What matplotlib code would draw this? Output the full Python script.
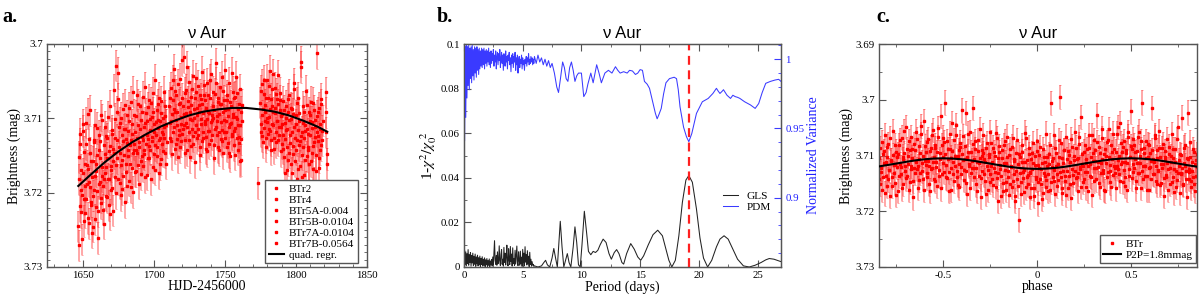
import numpy as np
import matplotlib
matplotlib.use('Agg')
import matplotlib.pyplot as plt
from matplotlib.lines import Line2D
from matplotlib.ticker import MultipleLocator, FixedLocator, FuncFormatter

plt.rcParams['font.family'] = ['Liberation Serif', 'DejaVu Serif']
plt.rcParams['mathtext.fontset'] = 'stix'

# ---------------- DATA ----------------
MAG_ZERO = 3.700          # brightness values below are given in mmag above this
# Panel a: light curve segments (start HJD-2456000, 0.5 d sampling); second set offset by 0.25 d
a_seg_start = [1647.0, 1711.0, 1775.0, 1821.0]
a_seg_step = 0.5
a_set2_offset = 0.25
a_seg1_mmag = [24.5, 15.2, 21.8, 12.1, 19.6, 26.3, 17.4, 10.8, 20.9, 16.2,
               22.7, 13.5, 18.9, 9.4, 16.8, 24.1, 19.3, 14.6, 21.2, 25.4,
               15.8, 20.4, 12.9, 17.7, 23.6, 16.1, 11.3, 19.8, 22.5, 14.2,
               18.6, 13.1, 21.4, 16.5, 10.2, 19.1, 24.2, 14.8, 17.3, 12.4,
               20.6, 15.3, 9.8, 18.2, 13.7, 22.9, 16.4, 11.6, 19.4, 14.1,
               6.2, 17.9, 12.6, 20.1, 9.1, 15.4, 3.9, 13.8, 18.7, 10.6,
               16.3, 12.2, 19.5, 8.7, 14.9, 21.3, 11.4, 17.2, 13.3, 9.6,
               15.1, 18.4, 10.3, 13.6, 7.8, 16.7, 12.1, 19.9, 9.5, 14.3,
               11.8, 17.1, 6.9, 14.6, 10.9, 18.8, 13.2, 8.4, 15.7, 12.5,
               9.2, 16.4, 11.1, 14.2, 5.8, 13.4, 17.6, 10.4, 12.8, 7.5,
               15.3, 11.6, 18.2, 9.8, 13.1, 6.6, 14.8, 10.7, 16.9, 12.3,
               8.9, 13.9, 10.2, 17.4, 7.2, 12.7, 15.5, 9.3, 11.9, 14.4,
               6.4, 12.6, 9.7, 16.1, 10.8]
a_seg1_mmag_2 = [18.2, 27.1, 13.4, 22.6, 16.9, 20.3, 11.7, 23.8, 14.5, 19.1,
                 10.6, 20.8, 16.3, 23.4, 12.8, 18.5, 8.9, 21.6, 15.7, 17.9,
                 24.6, 13.2, 19.7, 10.9, 17.1, 21.9, 14.9, 26.1, 12.3, 18.8,
                 15.4, 20.7, 9.6, 17.8, 22.3, 13.6, 18.2, 11.1, 20.4, 16.6,
                 12.7, 18.1, 21.7, 14.4, 8.3, 16.9, 19.6, 12.1, 15.8, 22.4,
                 14.7, 10.1, 2.9, 16.3, 12.9, 7.4, 18.2, 11.2, 14.6, 20.3,
                 9.9, 15.6, 13.1, 17.7, 11.5, 8.2, 16.1, 12.8, 19.1, 14.2,
                 11.7, 8.6, 16.2, 12.9, 19.3, 10.8, 14.7, 6.4, 13.5, 17.2,
                 14.3, 9.7, 12.6, 16.3, 8.1, 13.9, 11.4, 17.5, 10.2, 15.1,
                 12.9, 7.1, 14.8, 10.6, 17.9, 9.3, 12.2, 15.4, 8.5, 13.7,
                 10.1, 14.2, 7.9, 12.5, 16.6, 9.2, 11.8, 4.8, 13.6, 10.5,
                 15.1, 11.3, 8.1, 12.9, 10.4, 16.2, 7.7, 13.4, 9.9, 12.1,
                 11.2, 8.3, 14.6, 10.9, 13.2]
a_seg2_mmag = [8.3, 12.7, 5.9, 10.4, 14.8, 7.6, 11.2, 3.4, 9.1, 13.5,
               6.8, 10.9, 15.2, 8.1, 12.3, 4.7, 9.8, 13.1, 7.3, 11.5,
               1.8, 9.4, 12.9, 6.2, 10.6, 14.3, 8.5, 5.1, 11.8, 9.2,
               13.7, 7.1, 10.2, 4.3, 12.4, 8.8, 15.9, 6.5, 10.9, 9.6,
               5.6, 11.4, 8.2, 13.8, 7.4, 10.1, 3.7, 9.3, 12.6, 6.9,
               10.8, 14.1, 8.6, 5.3, 11.7, 9.1, 13.4, 7.2, 10.5, 4.1,
               12.2, 8.4, 9.9, 15.4, 6.7, 11.1, 2.6, 10.3, 13.9, 7.8,
               9.4, 5.8, 12.8, 8.1, 11.6, 14.7, 6.3, 10.2, 8.9, 3.5,
               11.9, 7.5, 13.3, 9.7, 5.2, 10.8, 15.1, 8.3, 12.1, 6.4,
               9.8, 13.6, 7.1, 11.3, 4.4, 10.1, 14.2, 8.7, 12.5, 6.1,
               10.9, 15.6, 8.2]
a_seg2_mmag_2 = [10.6, 7.2, 13.1, 9.4, 4.9, 11.8, 8.7, 14.1, 6.3, 10.2,
                 12.8, 9.1, 5.4, 11.6, 7.9, 13.9, 10.7, 2.2, 12.1, 8.4,
                 10.9, 6.6, 14.6, 9.3, 3.1, 11.2, 7.7, 12.9, 10.1, 15.2,
                 8.2, 11.5, 6.1, 13.4, 9.9, 7.3, 11.8, 4.6, 12.7, 8.6,
                 12.3, 9.2, 14.9, 6.8, 10.7, 13.1, 8.1, 11.9, 5.5, 10.4,
                 7.6, 12.5, 10.1, 14.4, 6.9, 9.3, 11.7, 4.8, 12.9, 9.5,
                 10.2, 6.4, 13.6, 8.9, 11.4, 5.2, 12.2, 9.7, 7.3, 14.3,
                 11.8, 8.1, 10.5, 4.4, 13.1, 9.2, 11.9, 7.6, 12.7, 10.3,
                 6.9, 13.8, 8.8, 11.1, 14.6, 7.8, 10.6, 3.9, 12.4, 9.4,
                 11.7, 7.2, 14.9, 9.8, 12.6, 6.6, 10.9, 13.3, 8.1, 15.8,
                 9.1, 12.8, 10.4]
a_seg3_mmag = [7.9, 11.8, 5.4, 9.6, 13.2, 6.7, 10.4, 8.2, 12.6, 4.8,
               9.9, 7.3, 11.5, 3.6, 8.8, 12.9, 6.1, 10.7, 9.2, 14.1,
               5.9, 8.6, 11.9, 7.4, 10.3, 4.2, 12.3, 8.9, 6.6, 11.1,
               13.4, 9.4, 7.7, 15.2, 10.6, 12.8, 8.3, 16.9, 11.4, 9.1,
               14.6, 6.8, 12.2, 10.1, 17.3, 8.7, 13.7, 11.2, 5.3, 15.8,
               9.6, 12.9, 18.1, 7.2, 13.6, 10.3, 16.4, 3.1, 11.8, 14.9,
               8.4, 12.7, 17.6, 10.9, 6.3, 15.1, 11.5, 13.9, 9.2, 18.4,
               12.3, 7.8, 14.7, 10.5, 16.8, 8.9, 13.2, 11.1, 17.1, 9.7,
               1.2, 12.4, 15.3, 8.6, 10.8, 13.6, 7.4, 11.7]
a_seg3_mmag_2 = [10.7, 6.3, 12.4, 8.7, 4.9, 11.3, 9.1, 13.8, 7.2, 10.5,
                 12.1, 5.6, 9.8, 11.7, 7.4, 14.2, 8.3, 10.9, 4.1, 12.6,
                 9.3, 13.2, 6.7, 10.4, 8.1, 12.9, 11.2, 7.6, 14.4, 9.7,
                 10.8, 14.1, 12.3, 8.9, 17.4, 11.6, 9.9, 13.8, 7.4, 15.6,
                 10.2, 13.3, 8.6, 16.2, 11.9, 9.4, 14.8, 6.1, 12.7, 10.8,
                 14.2, 7.9, 11.6, 16.8, 9.3, 13.1, 2.4, 12.4, 17.9, 10.6,
                 13.8, 9.1, 15.6, 11.7, 19.2, 8.2, 14.3, 12.1, 16.2, 10.4,
                 9.6, 15.8, 11.3, 13.7, 7.9, 18.6, 12.5, 10.2, 14.9, 11.8,
                 13.1, 9.2, 16.7, 11.4, 14.2, 8.1, 12.9, 10.3]
a_seg4_mmag = [6.5, 11.9, 14.8]
a_seg4_mmag_2 = [9.2, 16.1]
a_iso_hjd = [1773.6]
a_iso_mmag = [18.7]
a_err_mmag = 2.1
a_legend_labels = ['BTr2', 'BTr4', 'BTr5A-0.004', 'BTr5B-0.0104',
                   'BTr7A-0.0104', 'BTr7B-0.0564']
# quadratic regression
qfit_hjd = [1647, 1655, 1665, 1675, 1685, 1695, 1705, 1715, 1725, 1735,
            1745, 1755, 1765, 1775, 1785, 1795, 1805, 1815, 1822]
qfit_mag = [3.7191, 3.7177, 3.7160, 3.7145, 3.7132, 3.7121, 3.7111, 3.7103,
            3.7096, 3.7091, 3.7088, 3.7086, 3.7086, 3.7088, 3.7091, 3.7096,
            3.7103, 3.7111, 3.7118]

# Panel b: periodograms. Dense short-period part on a 0.05 d grid
b_grid_start = 0.0
b_grid_step = 0.05
gls_grid = [0.004, 0.0075, 0.001, 0.0068, 0.0005, 0.006, 0.0015, 0.0078, 0.0008, 0.0055,
            0.002, 0.0065, 0.0004, 0.0052, 0.0018, 0.0062, 0.0006, 0.0048, 0.0012, 0.0058,
            0.0003, 0.0045, 0.0015, 0.0053, 0.0005, 0.0042, 0.001, 0.0049, 0.0002, 0.0038,
            0.0012, 0.0046, 0.0004, 0.0035, 0.0009, 0.0041, 0.0002, 0.0032, 0.001, 0.0038,
            0.0003, 0.0029, 0.0008, 0.0036, 0.0002, 0.0027, 0.0011, 0.0034, 0.0004, 0.0045,
            0.0009, 0.006, 0.0118, 0.003, 0.0012, 0.0052, 0.0008, 0.0068, 0.0015, 0.0028,
            0.0095, 0.0025, 0.0006, 0.0058, 0.0078, 0.0012, 0.0035, 0.0004, 0.0088, 0.0021,
            0.0062, 0.0009, 0.0045, 0.0098, 0.0018, 0.0005, 0.0082, 0.0032, 0.0011, 0.0092,
            0.0024, 0.0058, 0.0004, 0.0086, 0.0016, 0.0038, 0.0007, 0.0075, 0.0013, 0.0052,
            0.0094, 0.0021, 0.0006, 0.0068, 0.0029, 0.0008, 0.0071, 0.0015, 0.0044, 0.0003,
            0.0079, 0.0019, 0.0062, 0.0005, 0.0091, 0.0022, 0.0055, 0.0009, 0.0073, 0.0014,
            0.0048, 0.0002, 0.0066, 0.0011, 0.0035, 0.0004, 0.0024, 0.0008, 0.0012, 0.0003]
pdm_grid = [1.002, 0.941, 1.009, 0.958, 1.010, 0.972, 1.009, 0.981, 1.010, 0.978,
            1.008, 0.986, 1.009, 0.983, 1.010, 0.988, 1.007, 0.985, 1.009, 0.990,
            1.008, 0.987, 1.009, 0.992, 1.007, 0.989, 1.008, 0.993, 1.006, 0.995,
            1.008, 0.994, 1.007, 0.996, 1.008, 0.993, 1.006, 0.997, 1.007, 0.995,
            1.006, 0.998, 1.008, 0.996, 1.005, 0.994, 1.006, 0.997, 1.004, 0.999,
            1.007, 0.995, 1.003, 0.998, 1.006, 0.993, 1.002, 1.005, 0.996, 1.004,
            0.999, 1.007, 0.994, 1.001, 1.005, 0.997, 1.003, 0.992, 1.004, 1.000,
            0.995, 1.006, 0.998, 1.002, 0.993, 1.003, 0.999, 1.005, 0.996, 1.001,
            0.991, 1.003, 0.997, 1.004, 0.994, 1.002, 0.998, 1.005, 0.992, 1.001,
            0.996, 1.003, 0.990, 0.999, 1.002, 0.994, 1.000, 0.997, 1.003, 0.993,
            1.001, 0.996, 0.999, 0.992, 1.000, 0.997, 1.002, 0.995, 1.001, 0.998,
            1.004, 0.996, 1.000, 0.997, 1.002, 0.998, 1.001, 0.996, 1.000, 0.997]
# smooth long-period part (period, value)
gls_long_period = [6.0, 6.3, 6.6, 6.8, 6.95, 7.1, 7.3, 7.5, 7.65, 7.8, 7.95, 8.05, 8.2,
                   8.35, 8.5, 8.65, 8.8, 8.95, 9.1, 9.3, 9.45, 9.6, 9.75, 9.9, 10.05,
                   10.25, 10.45, 10.6, 10.8, 11.0, 11.2, 11.4, 11.6, 11.85, 12.1, 12.35,
                   12.55, 12.8, 13.0, 13.2, 13.45, 13.6, 13.85, 14.2, 14.5, 14.8, 15.05,
                   15.3, 15.7, 16.1, 16.5, 16.9, 17.2, 17.45, 17.7, 18.0, 18.3, 18.6,
                   18.9, 19.15, 19.45, 19.8, 20.1, 20.4, 20.75, 21.1, 21.5, 21.8, 22.15,
                   22.5, 22.9, 23.3, 23.8, 24.3, 24.8, 25.3, 25.7, 26.0, 26.4, 27.0]
gls_long_value = [0.0005, 0.0, 0.0005, 0.002, 0.003, 0.001, 0.0, 0.004, 0.0083, 0.004,
                  0.0, 0.008, 0.0205, 0.009, 0.0, 0.003, 0.006, 0.002, 0.0, 0.009,
                  0.018, 0.011, 0.001, 0.0, 0.01, 0.025, 0.015, 0.007, 0.0055, 0.007,
                  0.0065, 0.0075, 0.010, 0.0125, 0.011, 0.006, 0.0035, 0.0065, 0.0078,
                  0.006, 0.002, 0.0013, 0.006, 0.0105, 0.008, 0.0045, 0.003, 0.005,
                  0.010, 0.0145, 0.0165, 0.014, 0.008, 0.003, 0.0, 0.003, 0.014, 0.029,
                  0.039, 0.041, 0.038, 0.026, 0.013, 0.004, 0.0, 0.003, 0.009, 0.0125,
                  0.014, 0.0125, 0.008, 0.0035, 0.0005, 0.0, 0.0008, 0.002, 0.0032,
                  0.0038, 0.0035, 0.0024]
pdm_long_period = [6.0, 6.15, 6.3, 6.45, 6.6, 6.75, 6.9, 7.05, 7.2, 7.35, 7.5, 7.7, 7.9,
                   8.05, 8.2, 8.4, 8.55, 8.7, 8.85, 9.0, 9.15, 9.3, 9.45, 9.6, 9.75,
                   10.0, 10.2, 10.4, 10.55, 10.8, 11.0, 11.3, 11.5, 11.7, 12.0, 12.3,
                   12.6, 12.9, 13.1, 13.3, 13.6, 13.9, 14.1, 14.35, 14.6, 14.8, 15.0,
                   15.2, 15.37, 15.6, 15.8, 16.1, 16.3, 16.45, 16.6, 16.8, 17.0, 17.2,
                   17.5, 17.9, 18.1, 18.25, 18.4, 18.7, 18.95, 19.15, 19.4, 19.8, 20.3,
                   20.8, 21.2, 21.5, 21.65, 21.8, 22.0, 22.1, 22.4, 22.7, 22.9, 23.1,
                   23.3, 23.5, 23.9, 24.4, 24.8, 25.1, 25.4, 25.7, 26.1, 26.5, 26.8, 27.0]
pdm_long_value = [1.002, 0.997, 1.003, 0.998, 1.001, 0.996, 1.000, 0.995, 0.999, 0.994,
                  0.997, 0.990, 0.980, 0.976, 0.985, 0.998, 0.994, 0.986, 0.984, 0.994,
                  0.998, 0.992, 0.984, 0.988, 0.990, 0.990, 0.973, 0.976, 0.982, 0.990,
                  0.983, 0.996, 0.990, 0.983, 0.990, 0.992, 0.990, 0.9946, 0.992, 0.990,
                  0.991, 0.990, 0.992, 0.9915, 0.989, 0.990, 0.9925, 0.992, 0.984, 0.982,
                  0.979, 0.968, 0.961, 0.957, 0.960, 0.9645, 0.975, 0.983, 0.986, 0.987,
                  0.986, 0.978, 0.9656, 0.951, 0.944, 0.9405, 0.9463, 0.9609, 0.9693,
                  0.9717, 0.9753, 0.979, 0.977, 0.9753, 0.977, 0.978, 0.974, 0.9717,
                  0.974, 0.973, 0.9725, 0.9717, 0.9693, 0.967, 0.9645, 0.968, 0.976,
                  0.9826, 0.984, 0.985, 0.9855, 0.984]
best_period = 19.2

# Panel c: phased light curve (phase from -0.84, step 0.005); second set offset by 0.0025
c_phase_start = -0.84
c_phase_step = 0.005
c_set2_offset = 0.0025
c_mmag = [14.2, 8.7, 12.9, 16.1, 9.8, 11.4, 6.3, 13.7, 15.5, 10.2,
          7.9, 12.6, 17.2, 10.9, 13.8, 5.6, 11.7, 14.9, 9.3, 12.1,
          16.4, 8.2, 11.5, 13.3, 6.8, 10.7, 15.1, 9.6, 12.8, 4.9,
          13.6, 10.1, 7.4, 14.7, 11.9, 8.8, 17.5, 12.2, 9.1, 5.7,
          12.4, 15.8, 8.3, 10.6, 13.1, 6.2, 11.3, 14.2, 3.8, 10.9,
          9.4, 13.9, 7.1, 11.8, 16.3, 8.6, 12.3, 5.4, 10.2, 14.6,
          8.1, 11.2, 15.4, 6.7, 12.6, 9.5, 2.9, 13.4, 10.3, 7.6,
          0.5, 11.7, 14.1, 8.9, 12.9, 6.1, 10.4, 16.2, 9.2, 13.3,
          7.3, 11.9, 4.6, 13.8, 10.1, 15.7, 8.4, 12.1, 9.7, 6.5,
          14.4, 10.6, 2.4, 12.7, 16.9, 9.3, 11.5, 5.8, 13.2, 10.9,
          1.5, 12.3, 8.8, 15.2, 11.1, 7.2, 13.6, 10.4, 17.4, 9.1,
          12.8, 6.4, 10.7, 14.5, 8.6, 11.9, 16.1, 9.8, 13.3, 7.7,
          11.2, 15.3, 9.4, 12.9, 5.9, 14.1, 10.5, 18.2, 8.3, 12.4,
          13.7, 9.1, 16.4, 11.3, 7.4, 14.8, 10.2, 12.7, 17.1, 8.9,
          12.1, 15.6, 6.8, 13.4, 10.9, 17.3, 9.6, 14.2, 11.5, 21.6,
          10.3, 14.7, 8.2, 12.9, 16.5, 11.1, 6.9, 13.8, 15.2, 9.7,
          13.1, 17.4, 10.6, 12.5, 7.8, 15.9, 11.7, 14.3, 9.2, 18.6,
          12.2, 8.5, 15.1, 11.4, 16.8, 10.2, 13.6, 6.1, 14.4, 11.9,
          13.3, 9.8, 16.2, 0.6, 12.1, 10.5, 14.6, 8.7, 11.8, 15.4,
          11.6, 7.3, -0.5, 13.9, 10.4, 16.7, 12.8, 9.1, 14.5, 6.6,
          12.7, 15.8, 9.9, 11.2, 17.6, 8.4, 13.5, 10.8, 5.7, 14.1,
          10.6, 13.2, 16.3, 7.9, 12.4, 3.1, 11.5, 14.7, 9.3, 12.9,
          15.7, 8.8, 11.9, 6.4, 13.6, 10.2, 17.1, 9.5, 12.3, 7.2,
          10.9, 14.3, 2.8, 12.1, 8.5, 15.6, 11.4, 6.9, 13.2, 9.8,
          16.4, 10.1, 7.6, 12.9, 5.3, 11.7, 14.8, 8.2, 10.6, 13.5,
          8.9, 12.2, 15.9, 6.1, 10.8, 13.4, 4.2, 11.5, 9.3, 14.7,
          7.4, 11.1, 13.8, 9.6, 16.2, 5.8, 12.4, 10.2, 2.1, 8.8,
          12.9, 8.1, 9.4, 14.6, 11.3, 6.7, 13.1, 10.1, 15.8, 7.4,
          0.5, 11.8, 8.6, 13.7, 10.4, 16.1, 7.9, 12.2, 9.5, 14.3,
          1.5, 10.7, 13.4, 6.4, 11.9, 15.2, 9.1, 12.6, 5.6, 10.3,
          14.9, 8.7, 11.6, 17.2, 10.2, 13.5, 7.1, 12.4, 9.8, 15.1,
          11.1, 6.2, 13.8, 10.5, 16.6, 8.9, 12.7, 14.4, 4.9, 11.9,
          9.7, 13.1, 3.2, 15.3, 11.4, 8.2, 12.8, 17.4, 10.6, 14.2,
          12.5, 7.6, 15.7, 11.2, 13.9, 9.4, 16.3, 10.8, 12.1]
c_mmag_2 = [10.4, 15.1, 12.3, 7.6, 13.9, 9.2, 16.8, 11.1, 8.4, 14.3,
            12.6, 6.9, 10.8, 15.4, 9.9, 13.2, 8.1, 11.6, 17.1, 10.3,
            9.7, 13.6, 7.2, 12.1, 15.9, 10.2, 5.6, 11.9, 14.1, 8.8,
            11.5, 16.2, 9.1, 6.7, 12.4, 10.4, 14.6, 7.9, 13.1, 11.2,
            7.1, 11.9, 14.4, 9.6, 4.7, 12.8, 10.1, 16.1, 8.3, 11.7,
            13.2, 7.6, 10.9, 15.1, 9.2, 12.4, 6.3, 11.1, 14.2, 8.7,
            12.1, 9.4, 5.1, 13.6, 10.7, 15.9, 8.2, 11.4, 6.8, 12.9,
            9.8, 13.9, 7.4, 10.6, 16.4, 8.9, 12.2, 4.2, 11.1, 14.6,
            10.1, 6.4, 12.8, 15.3, 9.1, 11.6, 7.7, 13.4, 1.9, 10.8,
            12.6, 8.3, 14.9, 10.2, 6.1, 11.9, 15.8, 9.4, 12.3, 7.9,
            13.9, 10.6, 7.4, 12.2, 16.3, 9.2, 11.4, 5.3, 14.1, 10.1,
            9.6, 13.4, 11.1, 16.9, 7.8, 12.6, 10.3, 14.7, 5.8, 11.8,
            14.3, 8.6, 12.2, 10.1, 15.6, 6.9, 13.1, 9.4, 11.7, 17.2,
            10.4, 14.9, 8.1, 12.6, 16.2, 11.3, 6.6, 13.8, 9.9, 15.1,
            11.9, 8.4, 14.6, 10.6, 18.1, 12.8, 7.3, 15.4, 9.8, 13.2,
            16.9, 11.2, 9.3, 14.1, 12.6, 5.9, 15.7, 10.8, 13.5, 8.6,
            12.9, 15.8, 9.6, 11.4, 17.3, 10.1, 13.9, 7.4, 14.8, 11.7,
            9.9, 14.2, 12.4, 17.8, 8.8, 13.1, 11.2, 15.6, 10.3, 16.4,
            11.6, 8.2, 14.7, 10.9, 13.8, 6.4, 12.6, 16.9, 9.5, 13.3,
            14.4, 10.2, 12.9, 7.8, 15.8, 11.3, 9.1, 13.7, 17.1, 10.6,
            9.2, 13.6, 11.1, 15.2, 7.1, 12.4, 14.9, 10.1, 12.8, 8.6,
            13.9, 10.4, 6.7, 12.1, 15.6, 9.7, 11.8, 14.2, 8.2, 11.3,
            10.6, 12.9, 16.4, 8.6, 11.6, 13.8, 6.3, 10.9, 14.6, 9.1,
            12.3, 7.6, 11.2, 14.9, 9.6, 13.1, 5.2, 10.7, 12.6, 16.1,
            8.9, 11.4, 13.9, 7.2, 10.3, 12.8, 15.7, 9.4, 6.1, 11.9,
            13.2, 9.3, 11.8, 4.9, 12.4, 10.1, 14.6, 7.8, 11.2, 8.4,
            12.6, 15.4, 9.1, 11.3, 6.6, 13.7, 10.2, 8.3, 14.1, 11.6,
            7.1, 12.2, 10.6, 15.9, 9.2, 13.1, 5.7, 11.4, 8.8, 12.7,
            14.2, 9.6, 11.9, 7.4, 13.6, 10.3, 16.2, 8.2, 12.1, 10.9,
            9.1, 13.3, 11.2, 6.8, 14.6, 10.4, 12.7, 8.6, 15.3, 11.6,
            12.2, 7.9, 14.1, 10.6, 9.2, 13.8, 11.4, 16.1, 8.4, 12.3,
            10.1, 14.7, 8.8, 12.4, 11.2, 15.6, 7.1, 13.2, 10.8, 16.7,
            13.4, 9.9, 12.2, 15.1, 8.6, 11.8, 14.3, 10.5, 2.3, 12.9,
            10.2, 14.6, 12.8, 8.9, 15.2, 11.6, 13.7, 9.8]
c_err_mmag = 2.2
c_fit_phase = [-0.85, -0.80, -0.75, -0.70, -0.65, -0.60, -0.55, -0.50, -0.45, -0.40,
               -0.35, -0.30, -0.25, -0.20, -0.15, -0.10, -0.05, 0.0, 0.05, 0.10,
               0.15, 0.20, 0.25, 0.30, 0.35, 0.40, 0.45, 0.50, 0.55, 0.60, 0.65,
               0.70, 0.75, 0.80, 0.85]
c_fit_mmag = [12.01, 11.74, 11.45, 11.16, 10.89, 10.68, 10.55, 10.50, 10.55, 10.68,
              10.89, 11.16, 11.45, 11.74, 12.01, 12.22, 12.35, 12.40, 12.35, 12.22,
              12.01, 11.74, 11.45, 11.16, 10.89, 10.68, 10.55, 10.50, 10.55, 10.68,
              10.89, 11.16, 11.45, 11.74, 12.01]

# ---------------- STYLE ----------------
FRAME = '#555555'
PT_RED = '#ff0000'
ERR_RED = (1.0, 0.2, 0.2, 0.5)
BLUE = '#3a3aff'
TICK_FS = 7.8
LEG_FS = 8.1
LABEL_FS = 10
TITLE = 'ν Aur'
TITLE_FONT = ['Liberation Sans', 'DejaVu Sans']
fmt = FuncFormatter(lambda v, p: f'{round(v, 6):g}')


def style_axes(ax, right=True):
    for s in ax.spines.values():
        s.set_color(FRAME)
        s.set_linewidth(1.0)
    ax.tick_params(which='both', direction='in', top=True, right=right,
                   colors=FRAME, labelcolor='black', labelsize=TICK_FS, pad=3)
    ax.tick_params(which='major', length=5, width=0.8)
    ax.tick_params(which='minor', length=2.5, width=0.6)
    ax.xaxis.set_major_formatter(fmt)
    ax.yaxis.set_major_formatter(fmt)


def mags(mm):
    return MAG_ZERO + np.asarray(mm) / 1000.0


def scatter_err(ax, x, y, err):
    ax.errorbar(x, y, yerr=err, fmt='s', ms=1.7, mfc=PT_RED, mec=PT_RED,
                ecolor=ERR_RED, elinewidth=1.2, capsize=1.0, capthick=0.6, zorder=2)


fig = plt.figure(figsize=(12, 2.97), dpi=100)
H = 297.0
W = 1200.0
ax_a = fig.add_axes([47 / W, 30 / H, 320 / W, 223 / H])
ax_b = fig.add_axes([464 / W, 30 / H, 317 / W, 223 / H])
ax_c = fig.add_axes([879 / W, 30 / H, 318 / W, 223 / H])

# ---------- Panel a ----------
sets = [(0.0, [a_seg1_mmag, a_seg2_mmag, a_seg3_mmag, a_seg4_mmag]),
        (a_set2_offset, [a_seg1_mmag_2, a_seg2_mmag_2, a_seg3_mmag_2, a_seg4_mmag_2])]
t_all, m_all = [], []
for off, segs in sets:
    for st, seg in zip(a_seg_start, segs):
        t_all.append(st + off + a_seg_step * np.arange(len(seg)))
        m_all.append(mags(seg))
t_all.append(np.asarray(a_iso_hjd))
m_all.append(mags(a_iso_mmag))
t_all = np.concatenate(t_all)
m_all = np.concatenate(m_all)
scatter_err(ax_a, t_all, m_all, a_err_mmag / 1000.0)
ax_a.plot(qfit_hjd, qfit_mag, color='black', lw=1.5, zorder=3)
ax_a.set_xlim(1625, 1850)
ax_a.set_ylim(3.73, 3.70)
ax_a.xaxis.set_major_locator(MultipleLocator(50))
ax_a.xaxis.set_minor_locator(MultipleLocator(10))
ax_a.yaxis.set_major_locator(MultipleLocator(0.01))
ax_a.yaxis.set_minor_locator(MultipleLocator(0.001))
style_axes(ax_a)
ax_a.set_xlabel('HJD-2456000', fontsize=LABEL_FS, labelpad=0)
ax_a.set_ylabel('Brightness (mag)', fontsize=LABEL_FS, labelpad=2)
ax_a.set_title(TITLE, fontsize=12, family=TITLE_FONT, pad=4)
handles = [Line2D([], [], ls='none', marker='s', ms=1.8, color=PT_RED) for _ in a_legend_labels]
handles.append(Line2D([], [], color='black', lw=1.5))
leg = ax_a.legend(handles, a_legend_labels + ['quad. regr.'], loc='lower right',
                  bbox_to_anchor=(0.972, 0.018), borderaxespad=0.0,
                  fontsize=LEG_FS, frameon=True, fancybox=False, framealpha=1,
                  edgecolor=FRAME, labelspacing=0.1, handlelength=1.4,
                  handletextpad=0.4, borderpad=0.3)
leg.get_frame().set_linewidth(1.0)

# ---------- Panel b ----------
gls_p = np.concatenate([b_grid_start + b_grid_step * np.arange(len(gls_grid)), gls_long_period])
gls_v = np.concatenate([gls_grid, gls_long_value])
pdm_p = np.concatenate([b_grid_start + b_grid_step * np.arange(len(pdm_grid)), pdm_long_period])
pdm_v = np.concatenate([pdm_grid, pdm_long_value])
l_gls, = ax_b.plot(gls_p, gls_v, color='#222222', lw=0.75)
ax_b.axvline(best_period, color='#ff2020', lw=1.6, ls=(0, (4, 2.5)), zorder=4)
ax_b.set_xlim(0, 27)
ax_b.set_ylim(0, 0.1)
ax_b.xaxis.set_major_locator(MultipleLocator(5))
ax_b.xaxis.set_minor_locator(MultipleLocator(2.5))
ax_b.yaxis.set_major_locator(MultipleLocator(0.02))
ax_b.yaxis.set_minor_locator(MultipleLocator(0.01))
style_axes(ax_b, right=False)
ax_b.set_xlabel('Period (days)', fontsize=LABEL_FS, labelpad=0)
ax_b.set_ylabel(r'1-$\chi^2/\chi_0^{\ 2}$', fontsize=11, labelpad=1)
ax_b.set_title(TITLE, fontsize=12, family=TITLE_FONT, pad=4)
ax_b2 = ax_b.twinx()
l_pdm, = ax_b2.plot(pdm_p, pdm_v, color=BLUE, lw=0.75)
ax_b2.set_ylim(0.85, 1.011)
ax_b2.yaxis.set_major_locator(FixedLocator([0.9, 0.95, 1.0]))
ax_b2.yaxis.set_minor_locator(MultipleLocator(0.01))
ax_b2.yaxis.set_major_formatter(fmt)
for s in ax_b2.spines.values():
    s.set_color(FRAME)
ax_b2.tick_params(which='both', direction='in', colors=BLUE, labelcolor='#2020ff',
                  labelsize=TICK_FS, pad=3)
ax_b2.tick_params(which='major', length=5, width=0.8)
ax_b2.tick_params(which='minor', length=2.5, width=0.6)
ax_b2.set_ylabel('Normalized Variance', fontsize=LABEL_FS, color='#2020ff', labelpad=2)
ax_b2.legend([l_gls, l_pdm], ['GLS', 'PDM'], loc='lower right',
             bbox_to_anchor=(1.0, 0.2), fontsize=LEG_FS, frameon=False,
             labelspacing=0.15, handlelength=1.3, handletextpad=0.8)

# ---------- Panel c ----------
c_phase = c_phase_start + c_phase_step * np.arange(len(c_mmag))
c_phase_2 = c_phase_start + c_set2_offset + c_phase_step * np.arange(len(c_mmag_2))
scatter_err(ax_c, np.concatenate([c_phase, c_phase_2]),
            mags(np.concatenate([c_mmag, c_mmag_2])), c_err_mmag / 1000.0)
ax_c.plot(c_fit_phase, mags(c_fit_mmag), color='black', lw=1.5, zorder=3)
ax_c.set_xlim(-0.84, 0.85)
ax_c.set_ylim(3.73, 3.69)
ax_c.xaxis.set_major_locator(MultipleLocator(0.5))
ax_c.xaxis.set_minor_locator(MultipleLocator(0.25))
ax_c.yaxis.set_major_locator(MultipleLocator(0.01))
ax_c.yaxis.set_minor_locator(MultipleLocator(0.005))
style_axes(ax_c)
ax_c.set_xlabel('phase', fontsize=LABEL_FS, labelpad=0)
ax_c.set_ylabel('Brightness (mag)', fontsize=LABEL_FS, labelpad=2)
ax_c.set_title(TITLE, fontsize=12, family=TITLE_FONT, pad=4)
hc = [Line2D([], [], ls='none', marker='s', ms=1.8, color=PT_RED),
      Line2D([], [], color='black', lw=1.5)]
leg_c = ax_c.legend(hc, ['BTr', 'P2P=1.8mmag'], loc='lower right',
                    bbox_to_anchor=(0.997, 0.018), borderaxespad=0.0, fontsize=LEG_FS,
                    frameon=True, fancybox=False, framealpha=1, edgecolor=FRAME,
                    labelspacing=0.1, handlelength=1.6, handletextpad=0.4,
                    borderpad=0.3)
leg_c.get_frame().set_linewidth(1.0)

# panel letters
for x, s in [(2, 'a.'), (437, 'b.'), (876, 'c.')]:
    fig.text(x / W, 1 - 22 / H, s, fontsize=14.5, fontweight='bold', ha='left', va='baseline')

fig.savefig('out.png', dpi=100)
